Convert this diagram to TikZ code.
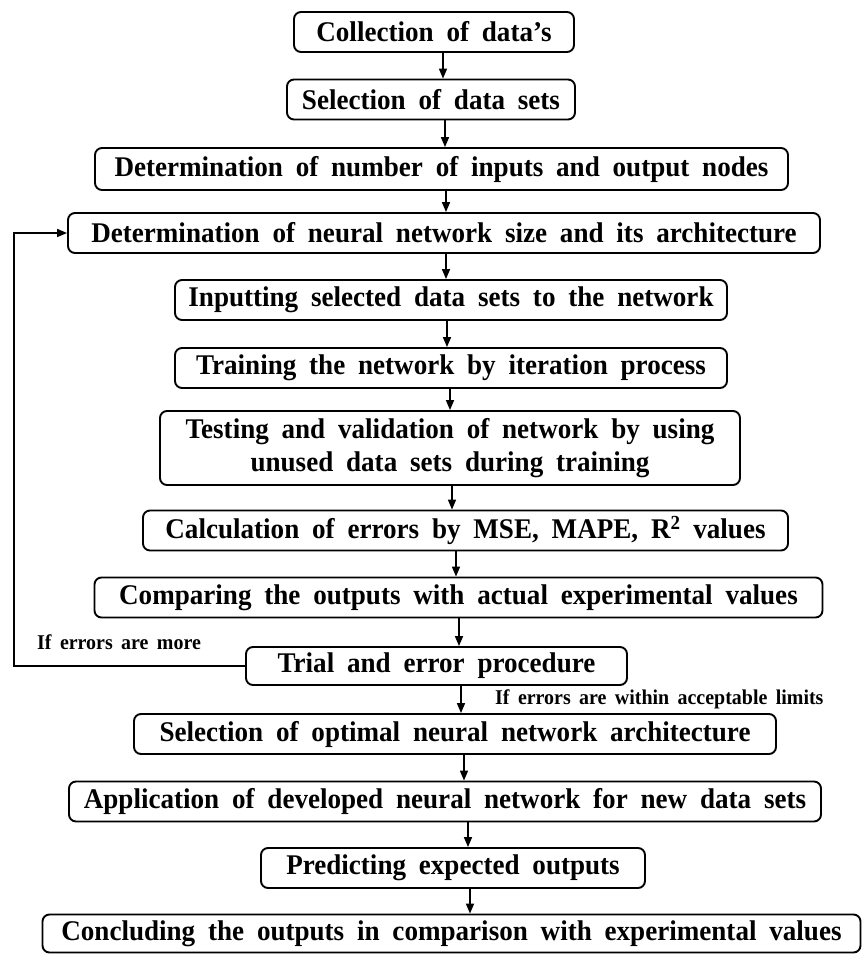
\documentclass[tikz,border=0pt]{standalone}
\usepackage{fontspec}
\setmainfont{Liberation Serif}
\newfontfamily\boxfont{Liberation Serif}[FakeStretch=0.95]
\newcommand\mywsp{\spaceskip 0.45em\relax}
\newcommand\mywspl{\spaceskip 0.4em\relax}
\usetikzlibrary{arrows.meta}
\begin{document}
\begin{tikzpicture}[x=1pt,y=-1pt,
  stepbox/.style={draw=black,line width=1.9pt,rounded corners=7pt,inner sep=0pt,
    minimum height=40pt,align=center,
    font=\boxfont\fontsize{28.5}{33}\selectfont\bfseries\mywsp},
  arr/.style={line width=1.6pt,-{Triangle[length=10pt,width=8pt]}},
  lbl/.style={inner sep=0pt,anchor=base west,font=\boxfont\fontsize{21}{24}\selectfont\bfseries\mywspl}]
\useasboundingbox (0,0) rectangle (863,954);
\node[stepbox,minimum width=280pt] (n1) at (434,32) {Collection of data’s};
\node[stepbox,minimum width=288pt] (n2) at (431,99.5) {Selection of data sets};
\node[stepbox,minimum width=693pt,minimum height=42pt] (n3) at (441.5,169) {Determination of number of inputs and output nodes};
\node[stepbox,minimum width=752pt] (n4) at (444,233) {Determination of neural network size and its architecture};
\node[stepbox,minimum width=552pt] (n5) at (451,300) {Inputting selected data sets to the network};
\node[stepbox,minimum width=552pt] (n6) at (451,368) {Training the network by iteration process};
\node[stepbox,minimum width=580pt,minimum height=74pt] (n7) at (450,448) {Testing and validation of network by using\\unused data sets during training};
\node[stepbox,minimum width=645pt] (n8) at (465.5,530.5) {Calculation of errors by MSE, MAPE, R\textsuperscript{2} values};
\node[stepbox,minimum width=728pt] (n9) at (458.5,597.5) {Comparing the outputs with actual experimental values};
\node[stepbox,minimum width=381pt,minimum height=38pt] (n10) at (436.5,666) {Trial and error procedure};
\node[stepbox,minimum width=642pt] (n11) at (455,734) {Selection of optimal neural network architecture};
\node[stepbox,minimum width=752pt] (n12) at (445,801.5) {Application of developed neural network for new data sets};
\node[stepbox,minimum width=384pt] (n13) at (453,868) {Predicting expected outputs};
\node[stepbox,minimum width=818pt,minimum height=38pt] (n14) at (451.5,933.5) {Concluding the outputs in comparison with experimental values};
\node[lbl] (l1) at (37,649) {If errors are more};
\node[lbl] (l2) at (495,704) {If errors are within acceptable limits};
\coordinate (x1) at (443,0);
\coordinate (x2) at (445,0);
\coordinate (x3) at (446,0);
\coordinate (x4) at (446,0);
\coordinate (x5) at (447,0);
\coordinate (x6) at (450,0);
\coordinate (x7) at (452,0);
\coordinate (x8) at (456,0);
\coordinate (x9) at (459,0);
\coordinate (x10) at (461,0);
\coordinate (x11) at (464,0);
\coordinate (x12) at (468,0);
\coordinate (x13) at (470,0);
\coordinate (fb) at (14,0);
\draw[arr] (n1.south -| x1) -- (n2.north -| x1);
\draw[arr] (n2.south -| x2) -- (n3.north -| x2);
\draw[arr] (n3.south -| x3) -- (n4.north -| x3);
\draw[arr] (n4.south -| x4) -- (n5.north -| x4);
\draw[arr] (n5.south -| x5) -- (n6.north -| x5);
\draw[arr] (n6.south -| x6) -- (n7.north -| x6);
\draw[arr] (n7.south -| x7) -- (n8.north -| x7);
\draw[arr] (n8.south -| x8) -- (n9.north -| x8);
\draw[arr] (n9.south -| x9) -- (n10.north -| x9);
\draw[arr] (n10.south -| x10) -- (n11.north -| x10);
\draw[arr] (n11.south -| x11) -- (n12.north -| x11);
\draw[arr] (n12.south -| x12) -- (n13.north -| x12);
\draw[arr] (n13.south -| x13) -- (n14.north -| x13);
\draw[arr] (n10.west) -- (n10.west -| fb) |- (n4.west);
\end{tikzpicture}
\end{document}
